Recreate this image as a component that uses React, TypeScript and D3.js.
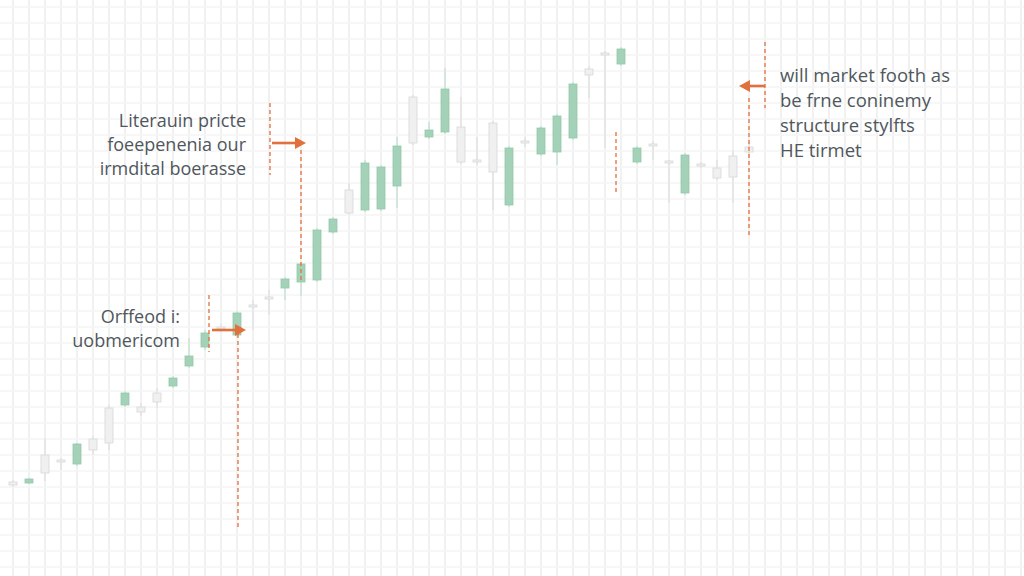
import React, { useEffect, useRef } from 'react';
import * as d3 from 'd3';

// OHLC values (arbitrary price units)
const opens = [23.5, 23.25, 30.25, 29, 28, 34.25, 42, 42.75, 42.25, 45.75, 47.5, 52.5, 57.25, 62.25, 60.25, 67.75, 69.75, 72, 73.5, 74, 86, 96.5, 91.5, 91.75, 97.5, 119.75, 109.75, 111, 112.25, 104, 113.25, 92.75, 108.75, 105.5, 106, 109.5, 126.75, 130.75, 128, 103.5, 108, 103.75, 95.75, 103, 102, 105, 107.25];
const closes = [22.75, 24.25, 25.75, 28.5, 33, 31.5, 33.25, 45.75, 41, 43.5, 49.5, 55, 60.75, 61.75, 65.75, 67.25, 69.25, 74.25, 78, 86.5, 89.25, 90.75, 103.25, 102.25, 107.5, 108.25, 111.5, 121.75, 103.5, 103.5, 101, 107, 108.25, 112, 115, 123, 125.25, 130.25, 131.75, 107, 107.5, 103.25, 105.25, 102.5, 99.5, 99.75, 106];
const highs = [24, 24.5, 34.5, 29.5, 33.25, 35, 42.75, 46.25, 43.25, 47, 50, 59.5, 61.5, 63, 66.25, 69, 71.5, 74.75, 78.5, 87, 89.75, 98.25, 104, 102.75, 109.75, 120.25, 113.5, 127, 119.75, 109.75, 113.75, 107.5, 109.75, 112.5, 115.5, 123.5, 127.5, 131.25, 132.25, 107.5, 108.75, 104, 105.75, 103.5, 104, 106.5, 108.25];
const lows = [22.25, 23, 23.75, 26.5, 27.5, 30.25, 31.5, 42.25, 40, 42, 47, 52, 56.5, 61, 59.75, 61.5, 65.25, 69, 70, 73.5, 85.5, 90.25, 91, 91.25, 92, 107.75, 109.25, 110.5, 103, 102.75, 91.5, 92.25, 107.25, 105, 102.75, 109, 119.5, 107, 127.5, 103, 104, 93.25, 95.25, 102, 99, 93.25, 105.25];

const noteLeftTop = ['Literauin pricte', 'foeepenenia our', 'irmdital boerasse'];
const noteLeftLow = ['Orffeod i:', 'uobmericom'];
const noteRight = ['will market footh as', 'be frne coninemy', 'structure stylfts', 'HE tirmet'];

const W = 1024;
const H = 576;
const ORANGE = '#e2703c';

const App: React.FC = () => {
  const svgRef = useRef<SVGSVGElement>(null);

  useEffect(() => {
    if (!svgRef.current) return;
    const svg = d3.select(svgRef.current);
    svg.selectAll('*').remove();

    const x = d3.scaleLinear().domain([0, 46]).range([13, 749]);
    const y = d3.scaleLinear().domain([0, 144]).range([H, 0]);

    svg.append('rect').attr('width', W).attr('height', H).attr('fill', '#ffffff');

    // faint grid
    const grid = svg.append('g');
    grid.selectAll('line.v')
      .data(d3.range(-1, 64))
      .enter().append('line')
      .attr('x1', d => x(d)).attr('x2', d => x(d))
      .attr('y1', 0).attr('y2', H)
      .attr('stroke', '#f0f0f0').attr('stroke-width', 1.8);
    grid.selectAll('line.h')
      .data(d3.range(2.25, 144, 4))
      .enter().append('line')
      .attr('x1', 0).attr('x2', W)
      .attr('y1', d => y(d)).attr('y2', d => y(d))
      .attr('stroke', '#f4f4f4').attr('stroke-width', 1.4);

    const candles = opens.map((o, i) => ({ i, o, c: closes[i], h: highs[i], l: lows[i] }));
    const bw = 8;

    const g = svg.append('g');
    g.selectAll('line.wick')
      .data(candles)
      .enter().append('line')
      .attr('x1', d => x(d.i)).attr('x2', d => x(d.i))
      .attr('y1', d => y(d.h)).attr('y2', d => y(d.l))
      .attr('stroke', d => d.c > d.o ? '#c2e0cf' : '#e0e0e0')
      .attr('stroke-width', 1.2);
    g.selectAll('rect.body')
      .data(candles)
      .enter().append('rect')
      .attr('x', d => x(d.i) - bw / 2)
      .attr('width', bw)
      .attr('y', d => y(Math.max(d.o, d.c)))
      .attr('height', d => Math.max(2, Math.abs(y(d.o) - y(d.c))))
      .attr('fill', d => d.c > d.o ? '#a4d2b9' : '#f0f0f0')
      .attr('stroke', d => d.c > d.o ? '#93c8aa' : '#d8d8d8')
      .attr('stroke-width', 0.8);

    // annotations
    const ann = svg.append('g');
    const dashed = (x0: number, y0: number, y1: number) =>
      ann.append('line')
        .attr('x1', x0).attr('x2', x0).attr('y1', y0).attr('y2', y1)
        .attr('stroke', ORANGE).attr('stroke-width', 1.3)
        .attr('stroke-dasharray', '4,3');
    const arrow = (x0: number, x1: number, yy: number) => {
      const dir = x1 > x0 ? 1 : -1;
      ann.append('line')
        .attr('x1', x0).attr('x2', x1 - dir * 6).attr('y1', yy).attr('y2', yy)
        .attr('stroke', ORANGE).attr('stroke-width', 2.6);
      ann.append('path')
        .attr('d', `M${x1},${yy} L${x1 - dir * 11},${yy - 6} L${x1 - dir * 11},${yy + 6} Z`)
        .attr('fill', ORANGE);
    };

    dashed(270, 103, 175);
    arrow(272, 306, 143);
    dashed(301, 150, 282);

    dashed(209, 295, 352);
    arrow(212, 246, 330);
    dashed(238, 334, 528);

    dashed(765, 42, 108);
    arrow(765, 739, 86);
    dashed(749, 98, 238);

    dashed(616, 132, 195);

    const text = (lines: string[], tx: number, ty: number, anchor: string, size: number, lh: number) => {
      ann.append('g').selectAll('text')
        .data(lines)
        .enter().append('text')
        .attr('x', tx)
        .attr('y', (_d, k) => ty + k * lh)
        .attr('text-anchor', anchor)
        .attr('font-family', '"Open Sans", sans-serif')
        .attr('font-size', size)
        .attr('fill', '#4f575c')
        .text(d => d);
    };

    text(noteLeftTop, 246, 127, 'end', 18, 24);
    text(noteLeftLow, 180, 323, 'end', 18, 24);
    text(noteRight, 780, 82, 'start', 18.5, 25);
  }, []);

  return (
    <svg
      ref={svgRef}
      width={W}
      height={H}
      style={{ position: 'fixed', left: 0, top: 0, display: 'block' }}
    />
  );
};

export default App;
